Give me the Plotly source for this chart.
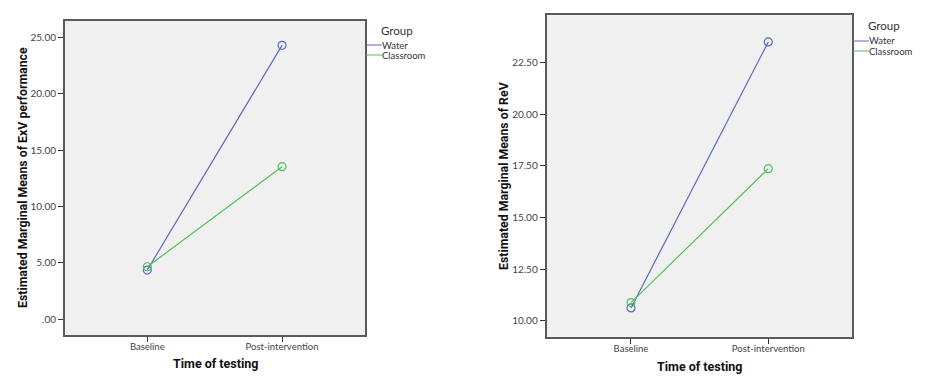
import plotly.graph_objects as go

# ---- data ----
times = ["Baseline", "Post-intervention"]
groups = ["Water", "Classroom"]

exv_water = [4.37, 24.29]
exv_classroom = [4.66, 13.53]

rev_water = [10.63, 23.50]
rev_classroom = [10.89, 17.37]

exv_tickvals = [0, 5, 10, 15, 20, 25]
exv_ticktext = [".00", "5.00", "10.00", "15.00", "20.00", "25.00"]
rev_tickvals = [10, 12.5, 15, 17.5, 20, 22.5]
rev_ticktext = ["10.00", "12.50", "15.00", "17.50", "20.00", "22.50"]

# ---- style ----
BLUE = "#5a6db8"
GREEN = "#4cc35a"
FONT = "Lato"
TFONT = "Roboto"
OFF = 8                      # page body margin
W, H = 927 - 2 * OFF, 382 - 2 * OFF

fig = go.Figure()

def add_pair(xa, ya, water, classroom):
    for vals, col in ((water, BLUE), (classroom, GREEN)):
        fig.add_trace(go.Scatter(
            x=[0, 1], y=vals, mode="lines+markers",
            line=dict(color=col, width=1.2),
            marker=dict(symbol="circle-open", size=8, color=col, line=dict(width=1.2)),
            xaxis=xa, yaxis=ya, showlegend=False, hoverinfo="skip"))

add_pair("x", "y", exv_water, exv_classroom)
add_pair("x2", "y2", rev_water, rev_classroom)

axis_common = dict(showgrid=False, zeroline=False, showline=True, mirror=True,
                   linecolor="#5a5a5a", linewidth=2, ticks="outside", ticklen=5,
                   tickcolor="#333", tickfont=dict(family=FONT, size=10, color="#444"),
                   fixedrange=True)
xfont = dict(family=FONT, size=9.5, color="#444")

def px_x(p):
    return (p - OFF) / W

def px_y(p):
    return 1 - (p - OFF) / H

fig.update_layout(
    width=W, height=H, margin=dict(l=0, r=0, t=0, b=0, autoexpand=False),
    paper_bgcolor="white", plot_bgcolor="#f0f0f0", showlegend=False,
    font=dict(family=FONT),
    xaxis=dict(domain=[px_x(65), px_x(365)], range=[-0.611, 1.616],
               tickvals=[0, 1], ticktext=times, anchor="y", ticklabelstandoff=-3,
               **axis_common),
    yaxis=dict(domain=[px_y(335), px_y(21)], range=[-1.39, 26.45],
               tickvals=exv_tickvals, ticktext=exv_ticktext, anchor="x", **axis_common),
    xaxis2=dict(domain=[px_x(546.7), px_x(852.3)], range=[-0.614, 1.612],
                tickvals=[0, 1], ticktext=times, anchor="y2", ticklabelstandoff=-3,
                **axis_common),
    yaxis2=dict(domain=[px_y(336.7), px_y(15.3)], range=[9.24, 24.79],
                tickvals=rev_tickvals, ticktext=rev_ticktext, anchor="x2", **axis_common),
)
fig.update_xaxes(tickfont=xfont)

def title(x, y, text, angle=0, size=13):
    fig.add_annotation(x=px_x(x), y=px_y(y), xref="paper", yref="paper",
                       text="<b>" + text + "</b>", showarrow=False, textangle=angle,
                       xanchor="center", yanchor="middle", borderpad=0,
                       font=dict(family=TFONT, size=size, color="#111"))

title(215, 363, "Time of testing", size=12.5)
title(699.5, 366, "Time of testing", size=12.5)
title(23, 178, "Estimated Marginal Means of ExV performance", angle=-90, size=12.3)
title(504, 176, "Estimated Marginal Means of ReV", angle=-90, size=12.3)

# ---- legends (drawn as text + line samples) ----
def legend(x0, y_title, y1, y2):
    fig.add_annotation(x=px_x(x0 + 14), y=px_y(y_title), xref="paper", yref="paper",
                       text="Group", showarrow=False, xanchor="left", yanchor="middle",
                       borderpad=0, font=dict(family=FONT, size=11.5, color="#333"))
    for yy, name, col in ((y1, groups[0], BLUE), (y2, groups[1], GREEN)):
        fig.add_shape(type="line", xref="paper", yref="paper",
                      x0=px_x(x0), x1=px_x(x0 + 16), y0=px_y(yy), y1=px_y(yy),
                      line=dict(color=col, width=1))
        fig.add_annotation(x=px_x(x0 + 15), y=px_y(yy), xref="paper", yref="paper",
                           text=name, showarrow=False, xanchor="left", yanchor="middle",
                           borderpad=0, font=dict(family=FONT, size=9.5, color="#333"))

legend(366, 31, 45, 55)
legend(853, 25, 41, 51)

fig.write_html("out.html")
